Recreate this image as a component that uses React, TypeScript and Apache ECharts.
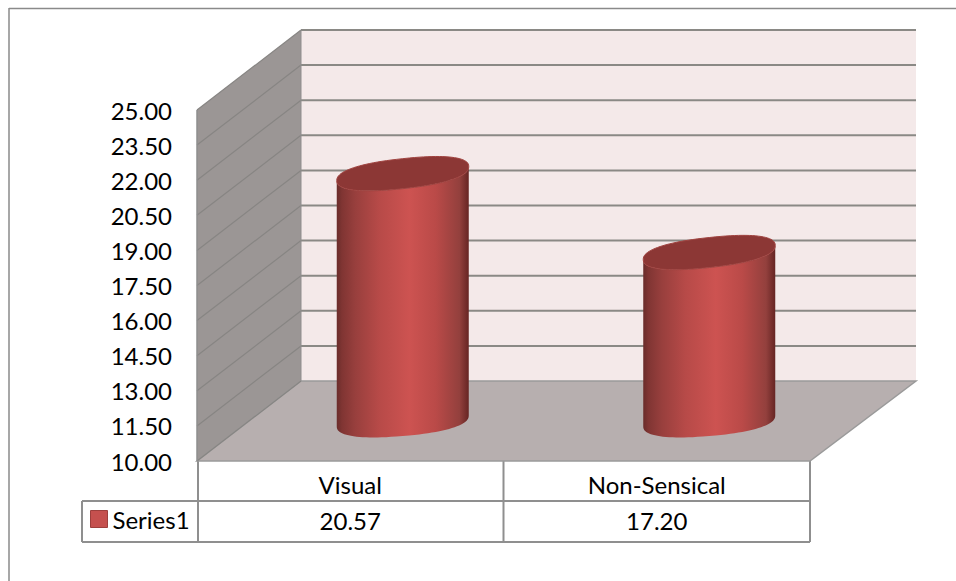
import React, { useEffect, useRef } from "react";
import * as echarts from "echarts";

// Chart content
const categories = ["Visual", "Non-Sensical"];
const seriesName = "Series1";
const seriesValues = [20.57, 17.2];
const axisMin = 10;
const axisMax = 25;
const axisStep = 1.5;
const gridValues = [10, 11.5, 13, 14.5, 16, 17.5, 19, 20.5, 22, 23.5, 25];

// Fixed look of the pseudo-3D box
const FONT = "Lato";
const FONT_SIZE = 24;
const DEPTH_X = 104;
const DEPTH_Y = -80;
const FLOOR_RIGHT_DEPTH_X = 106;
const CYL_HALF_W = 66;
const LID_TILT = 7;
const FOOT_TILT = 5.5;
const CYL_B = 15;
const ROUNDNESS = 0.85;
const ROW1_Y = 501;
const ROW2_Y = 542;
const TABLE_LEFT = 82;

const GRID = { left: 197, top: 110, width: 613, height: 351 };

// Slightly squared tilted ellipse, the rim of a cylinder seen from above
const ellipsePoint = (cx: number, cy: number, t: number, tilt: number): [number, number] => {
  const c = Math.cos(t);
  const s = Math.sin(t);
  const rc = Math.sign(c) * Math.pow(Math.abs(c), ROUNDNESS);
  const rs = Math.sign(s) * Math.pow(Math.abs(s), ROUNDNESS);
  return [cx + CYL_HALF_W * rc, cy - tilt * rc + CYL_B * rs];
};

function renderBox(_params: any, api: any) {
  const x0 = GRID.left;
  const x1 = GRID.left + GRID.width;
  const yBase = api.coord([0, axisMin])[1];
  const yTop = api.coord([0, axisMax])[1];
  const children: any[] = [];
  // back wall
  children.push({
    type: "rect",
    shape: { x: x0 + DEPTH_X, y: yTop + DEPTH_Y, width: x1 + FLOOR_RIGHT_DEPTH_X - x0 - DEPTH_X, height: yBase - yTop },
    style: { fill: "#f4e9e9" },
  });
  // side wall
  children.push({
    type: "polygon",
    shape: { points: [[x0, yBase], [x0, yTop], [x0 + DEPTH_X, yTop + DEPTH_Y], [x0 + DEPTH_X, yBase + DEPTH_Y]] },
    style: { fill: "#9b9695" },
  });
  // floor
  children.push({
    type: "polygon",
    shape: {
      points: [[x0, yBase], [x0 + DEPTH_X, yBase + DEPTH_Y], [x1 + FLOOR_RIGHT_DEPTH_X, yBase + DEPTH_Y], [x1, yBase]],
    },
    style: { fill: "#b7afaf", stroke: "#9a9a9a", lineWidth: 1.5 },
  });
  // grid lines across both walls
  gridValues.forEach((v) => {
    const y = api.coord([0, v])[1];
    if (v > axisMin) {
      children.push({
        type: "line",
        shape: { x1: x0 + DEPTH_X, y1: y + DEPTH_Y, x2: x1 + FLOOR_RIGHT_DEPTH_X, y2: y + DEPTH_Y },
        style: { stroke: "#8a8985", lineWidth: 2 },
      });
    }
    children.push({
      type: "line",
      shape: { x1: x0, y1: y, x2: x0 + DEPTH_X, y2: y + DEPTH_Y },
      style: { stroke: "#878583", lineWidth: 1.2 },
    });
  });
  // outer edges
  children.push({
    type: "line",
    shape: { x1: x0, y1: yBase, x2: x0, y2: yTop },
    style: { stroke: "#8e8e8e", lineWidth: 1.5 },
  });
  children.push({
    type: "line",
    shape: { x1: x0 + DEPTH_X, y1: yBase + DEPTH_Y, x2: x0 + DEPTH_X, y2: yTop + DEPTH_Y },
    style: { stroke: "#8e8e8e", lineWidth: 1 },
  });
  return { type: "group", children };
}

function renderCylinder(_params: any, api: any) {
  const base = api.coord([api.value(0), axisMin]);
  const top = api.coord([api.value(0), api.value(1)]);
  const cx = base[0] + DEPTH_X / 2 + 0.5;
  const cyBottom = base[1] + DEPTH_Y / 2;
  const cyTop = top[1] + DEPTH_Y / 2;
  const side: [number, number][] = [];
  const steps = 48;
  // front half of the top rim, left to right
  for (let i = 0; i <= steps; i++) side.push(ellipsePoint(cx, cyTop, Math.PI - (Math.PI * i) / steps, LID_TILT));
  // front half of the bottom rim, right to left
  for (let i = 0; i <= steps; i++) side.push(ellipsePoint(cx, cyBottom, (Math.PI * i) / steps, FOOT_TILT));
  const lid: [number, number][] = [];
  for (let i = 0; i < steps * 2; i++) lid.push(ellipsePoint(cx, cyTop, (Math.PI * i) / steps, LID_TILT));
  return {
    type: "group",
    children: [
      {
        type: "polygon",
        shape: { points: side },
        style: {
          fill: new echarts.graphic.LinearGradient(0, 0, 1, 0, [
            { offset: 0, color: "#6a2c2a" },
            { offset: 0.04, color: "#803533" },
            { offset: 0.14, color: "#983f3d" },
            { offset: 0.32, color: "#b74a48" },
            { offset: 0.55, color: "#cd5351" },
            { offset: 0.75, color: "#ba4a48" },
            { offset: 0.93, color: "#93403d" },
            { offset: 1, color: "#662523" },
          ]),
        },
      },
      { type: "polygon", shape: { points: lid }, style: { fill: "#8c3735", stroke: "#a04340", lineWidth: 1 } },
    ],
  };
}

function renderValueCell(_params: any, api: any) {
  const x = api.coord([api.value(0), axisMin])[0];
  return {
    type: "text",
    style: {
      x,
      y: (ROW1_Y + ROW2_Y) / 2 - 1,
      text: api.value(1).toFixed(2),
      fill: "#000",
      font: `${FONT_SIZE}px ${FONT}`,
      textAlign: "center",
      textVerticalAlign: "middle",
    },
  };
}

function tableGraphics() {
  const x0 = GRID.left + 1;
  const xm = GRID.left + GRID.width / 2;
  const x1 = GRID.left + GRID.width;
  const yTop = GRID.top + GRID.height;
  const stroke = "#8f8f8f";
  const seg = (a: number, b: number, c: number, d: number, w = 2) => ({
    type: "line",
    shape: { x1: a, y1: b, x2: c, y2: d },
    style: { stroke, lineWidth: w },
  });
  return [
    // outer chart frame
    { type: "line", shape: { x1: 9, y1: 8.5, x2: 956, y2: 8.5 }, style: { stroke: "#8a8a8a", lineWidth: 1.5 } },
    { type: "line", shape: { x1: 9, y1: 8, x2: 9, y2: 581 }, style: { stroke: "#8a8a8a", lineWidth: 1.5 } },
    // data table rules
    seg(x0, yTop, x0, ROW2_Y),
    seg(xm, yTop, xm, ROW2_Y),
    seg(x1, yTop, x1, ROW2_Y),
    seg(TABLE_LEFT, ROW1_Y, x1, ROW1_Y),
    seg(TABLE_LEFT, ROW2_Y, x1, ROW2_Y),
    seg(TABLE_LEFT, ROW1_Y, TABLE_LEFT, ROW2_Y),
  ];
}

export default function App() {
  const ref = useRef<HTMLDivElement>(null);
  useEffect(() => {
    const chart = echarts.init(ref.current!, undefined, { renderer: "svg" });
    const points = seriesValues.map((v, i) => [i, v]);
    chart.setOption({
      animation: false,
      backgroundColor: "#ffffff",
      textStyle: { fontFamily: FONT },
      grid: GRID,
      legend: {
        left: 90,
        top: 507,
        icon: "rect",
        itemWidth: 17,
        itemHeight: 17,
        itemGap: 0,
        padding: 0,
        data: [
          {
            name: seriesName,
            itemStyle: { color: "#c5504e", borderColor: "#9c3f3c", borderWidth: 1 },
          },
        ],
        textStyle: { fontFamily: FONT, fontSize: FONT_SIZE, color: "#000", padding: [0, 0, 0, 0] },
      },
      xAxis: {
        type: "category",
        data: categories,
        axisLine: { show: false },
        axisTick: { show: false },
        axisLabel: { fontFamily: FONT, fontSize: FONT_SIZE, color: "#000", margin: 11 },
      },
      yAxis: {
        type: "value",
        min: axisMin,
        max: axisMax,
        interval: axisStep,
        splitLine: { show: false },
        axisLine: { show: false },
        axisTick: { show: false },
        axisLabel: {
          fontFamily: FONT,
          fontSize: FONT_SIZE,
          color: "#000",
          margin: 25,
          formatter: (v: number) => v.toFixed(2),
        },
      },
      graphic: tableGraphics(),
      series: [
        {
          type: "custom",
          name: "box",
          renderItem: renderBox,
          data: [[0, axisMin]],
          encode: { x: 0, y: 1 },
          z: 1,
          silent: true,
        },
        {
          type: "custom",
          name: seriesName,
          renderItem: renderCylinder,
          data: points,
          encode: { x: 0, y: 1 },
          itemStyle: { color: "#c5504e" },
          z: 2,
          silent: true,
        },
        {
          type: "custom",
          name: "values",
          renderItem: renderValueCell,
          data: points,
          encode: { x: 0, y: 1 },
          z: 3,
          silent: true,
        },
      ],
    });
    return () => chart.dispose();
  }, []);
  return (
    <div
      ref={ref}
      style={{ position: "absolute", left: 0, top: 0, width: 956, height: 581 }}
    />
  );
}
